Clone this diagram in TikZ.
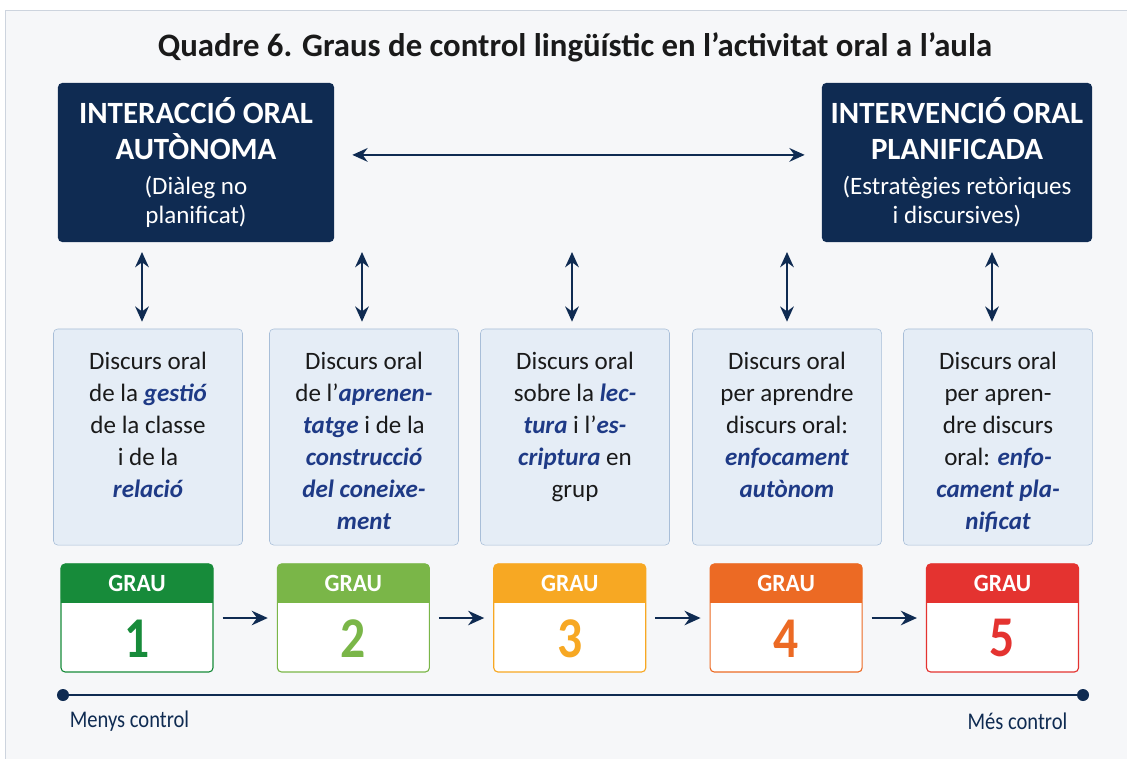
\documentclass[tikz,border=0pt]{standalone}
\usepackage{fontspec}
\setmainfont{Carlito}
\newfontfamily\headfont{Carlito}[FakeStretch=0.95]
\newfontfamily\narrowfont{Carlito}[FakeStretch=0.86]
\usepackage{xcolor}
\usetikzlibrary{positioning,arrows.meta}
\definecolor{navy}{HTML}{0F2B52}
\definecolor{keyblue}{HTML}{1E3A86}
\definecolor{inkdark}{HTML}{1A1A1A}
\definecolor{paleblue}{HTML}{E5EDF6}
\definecolor{paleedge}{HTML}{A8BED8}
\definecolor{paper}{HTML}{F6F7F9}
\definecolor{framegray}{HTML}{CDD4DE}
\definecolor{grauone}{HTML}{178B3A}
\definecolor{grautwo}{HTML}{7AB648}
\definecolor{grauthree}{HTML}{F7A823}
\definecolor{graufour}{HTML}{EC6A24}
\definecolor{graufive}{HTML}{E43330}
\newcommand{\kw}[1]{\textcolor{keyblue}{\bfseries\itshape #1}}
\newcommand{\hd}[1]{{\bfseries\fontsize{22}{25}\selectfont #1}}
\tikzset{
	title/.style = {
		font=\bfseries\fontsize{23.3}{26}\selectfont, text=inkdark
	}
}
\tikzset{
	darkbox/.style = {
		fill=navy, rounded corners=3pt, text=white, align=center,
		minimum height=3.975cm, font=\fontsize{17.8}{20.6}\selectfont
	}
}
\tikzset{
	lightbox/.style = {
		draw=paleedge, fill=paleblue, rounded corners=3pt,
		minimum width=4.725cm, minimum height=5.4cm
	}
}
\tikzset{
	boxtext/.style = {
		align=center, inner sep=0pt, text=inkdark, font=\fontsize{17.8}{22.8}\selectfont
	}
}
\tikzset{
	graubox/.style = {
		draw, fill=white, rounded corners=3pt, line width=0.8pt,
		minimum width=3.8cm, minimum height=2.7cm
	}
}
\tikzset{
	grauhead/.style = {
		rounded corners=3pt, text=white, minimum width=3.8cm, minimum height=0.975cm,
		font=\headfont\bfseries\fontsize{17.6}{20}\selectfont
	}
}
\tikzset{
	graunum/.style = {
		inner sep=0pt, font=\narrowfont\bfseries\fontsize{41}{44}\selectfont
	}
}
\tikzset{
	link/.style = {
		draw=navy, line width=1.8pt, {Stealth[length=0.38cm, width=0.34cm]}-{Stealth[length=0.38cm, width=0.34cm]}
	}
}
\tikzset{
	progress/.style = {
		draw=navy, line width=1.8pt, -{Stealth[length=0.4cm, width=0.36cm]},
		shorten <=0.225cm, shorten >=0.225cm
	}
}
\tikzset{
	enddot/.style = {
		circle, fill=navy, inner sep=0pt, minimum size=0.3cm
	}
}
\tikzset{
	endlabel/.style = {
		text=navy, font=\narrowfont\fontsize{17}{20}\selectfont
	}
}

\begin{document}
\begin{tikzpicture}[x=0.025cm, y=-0.025cm]
	\useasboundingbox (0,0) rectangle (1127,758);
	\clip (0,0) rectangle (1127,758);
	\fill[white] (0,0) rectangle (1127,758);
	\draw[framegray, fill=paper] (5,10) rectangle (1145,775);

	\node[title](Title) at (575,47) {Quadre 6. Graus de control lingüístic en l’activitat oral a l’aula};

	\node[darkbox, minimum width=6.9cm](Interaccio) at (196,162.5){
		\hd{INTERACCIÓ ORAL}\\[5pt]
		\hd{AUTÒNOMA}\\[4pt]
		(Diàleg no\\
		planificat)};
	\node[darkbox, minimum width=6.75cm](Intervencio) at (957,162.5){
		\hd{INTERVENCIÓ ORAL}\\[5pt]
		\hd{PLANIFICADA}\\[4pt]
		(Estratègies retòriques\\
		i discursives)};

	\node[lightbox](Gestio) at (148,437){};
	\node[boxtext, below=0.575cm of Gestio.north](GestioText){
		Discurs oral\\
		de la \kw{gestió}\\
		de la classe\\
		i de la\\
		\kw{relació}};
	\node[lightbox](Aprenentatge) at (364,437){};
	\node[boxtext, below=0.575cm of Aprenentatge.north](AprenentatgeText){
		Discurs oral\\
		de l’\kw{aprenen-}\\
		\kw{tatge} i de la\\
		\kw{construcció}\\
		\kw{del coneixe-}\\
		\kw{ment}};
	\node[lightbox](Lectura) at (575,437){};
	\node[boxtext, below=0.575cm of Lectura.north](LecturaText){
		Discurs oral\\
		sobre la \kw{lec-}\\
		\kw{tura} i l’\kw{es-}\\
		\kw{criptura} en\\
		grup};
	\node[lightbox](Autonom) at (787,437){};
	\node[boxtext, below=0.575cm of Autonom.north](AutonomText){
		Discurs oral\\
		per aprendre\\
		discurs oral:\\
		\kw{enfocament}\\
		\kw{autònom}};
	\node[lightbox](Planificat) at (998,437){};
	\node[boxtext, below=0.575cm of Planificat.north](PlanificatText){
		Discurs oral\\
		per apren-\\
		dre discurs\\
		oral: \kw{enfo-}\\
		\kw{cament pla-}\\
		\kw{nificat}};

	\coordinate (GestioLink) at (142,252);
	\coordinate (AprenentatgeLink) at (362,252);
	\coordinate (LecturaLink) at (572,252);
	\coordinate (AutonomLink) at (787,252);
	\coordinate (PlanificatLink) at (992,252);
	\draw[link, shorten >=0.175cm] (GestioLink) -- (GestioLink |- Gestio.north);
	\draw[link, shorten >=0.175cm] (AprenentatgeLink) -- (AprenentatgeLink |- Aprenentatge.north);
	\draw[link, shorten >=0.175cm] (LecturaLink) -- (LecturaLink |- Lectura.north);
	\draw[link, shorten >=0.175cm] (AutonomLink) -- (AutonomLink |- Autonom.north);
	\draw[link, shorten >=0.175cm] (PlanificatLink) -- (PlanificatLink |- Planificat.north);
	\draw[link, shorten <=0.45cm, shorten >=0.425cm] ([yshift=0.19cm]Interaccio.east) -- ([yshift=0.19cm]Intervencio.west);

	\node[graubox, draw=grauone](Grau1) at (137,618){};
	\node[graubox, draw=grautwo, right=1.58cm of Grau1](Grau2){};
	\node[graubox, draw=grauthree, right=1.58cm of Grau2](Grau3){};
	\node[graubox, draw=graufour, right=1.58cm of Grau3](Grau4){};
	\node[graubox, draw=graufive, right=1.58cm of Grau4](Grau5){};
	\node[grauhead, fill=grauone, below=0pt of Grau1.north](Head1){GRAU};
	\node[grauhead, fill=grautwo, below=0pt of Grau2.north](Head2){GRAU};
	\node[grauhead, fill=grauthree, below=0pt of Grau3.north](Head3){GRAU};
	\node[grauhead, fill=graufour, below=0pt of Grau4.north](Head4){GRAU};
	\node[grauhead, fill=graufive, below=0pt of Grau5.north](Head5){GRAU};
	\fill[grauone] ([yshift=3pt]Head1.south west) rectangle (Head1.south east);
	\fill[grautwo] ([yshift=3pt]Head2.south west) rectangle (Head2.south east);
	\fill[grauthree] ([yshift=3pt]Head3.south west) rectangle (Head3.south east);
	\fill[graufour] ([yshift=3pt]Head4.south west) rectangle (Head4.south east);
	\fill[graufive] ([yshift=3pt]Head5.south west) rectangle (Head5.south east);
	\node[graunum, text=grauone] (Num1) at ([yshift=-0.51cm]Grau1.center){1};
	\node[graunum, text=grautwo] (Num2) at ([yshift=-0.51cm]Grau2.center){2};
	\node[graunum, text=grauthree] (Num3) at ([yshift=-0.51cm]Grau3.center){3};
	\node[graunum, text=graufour] (Num4) at ([yshift=-0.51cm]Grau4.center){4};
	\node[graunum, text=graufive] (Num5) at ([yshift=-0.51cm]Grau5.center){5};

	\draw[progress] (Grau1) -- (Grau2);
	\draw[progress] (Grau2) -- (Grau3);
	\draw[progress] (Grau3) -- (Grau4);
	\draw[progress] (Grau4) -- (Grau5);

	\node[enddot](LowEnd) at (63,695){};
	\node[enddot](HighEnd) at (1083,695){};
	\draw[navy, line width=1.5pt] (LowEnd) -- (HighEnd);
	\node[endlabel](Menys) at (129.5,721){Menys control};
	\node[endlabel](Mes) at (1017.5,721){Més control};
\end{tikzpicture}
\end{document}
